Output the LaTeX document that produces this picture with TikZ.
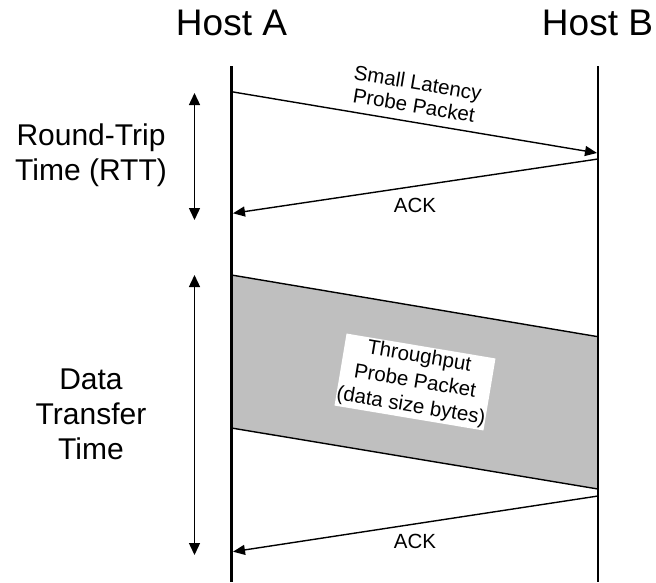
\documentclass[tikz,border=0pt]{standalone}
\usepackage{fontspec}
\setmainfont{Liberation Sans}
\usetikzlibrary{arrows.meta}
\begin{document}
\begin{tikzpicture}[x=1pt,y=-1pt,
  lifeline/.style={line width=2.8pt},
  msg/.style={line width=1.4pt,-{Triangle[length=12pt,width=10pt]}},
  span/.style={line width=1.4pt,{Triangle[length=12pt,width=11pt]}-{Triangle[length=12pt,width=11pt]}},
  edge/.style={line width=1.4pt},
  host/.style={font=\fontsize{37}{40}\selectfont,anchor=base,inner sep=0pt},
  side/.style={font=\fontsize{30}{35}\selectfont,align=center,inner sep=0pt},
  lbl/.style={font=\fontsize{20.5}{23}\selectfont,align=center,inner sep=0pt},
  payload/.style={lbl,font=\fontsize{20.5}{25}\selectfont,fill=white,minimum width=151pt,minimum height=73pt},
  band/.style={fill=black!25},
]
\useasboundingbox (0,0) rectangle (656,582);

% host headings
\node[host] (hostA) at (231.5,35) {Host A};
\node[host] (hostB) at (597.5,35) {Host B};

% lifeline end points
\coordinate (aTop) at (231.5,66);
\coordinate (aBot) at (231.5,582);
\coordinate (bTop) at (598,66);
\coordinate (bBot) at (598,582);

% throughput probe band
\coordinate (bandA1) at (231.5,275);
\coordinate (bandB1) at (598,336.7);
\coordinate (bandB2) at (598,489);
\coordinate (bandA2) at (231.5,428);
\fill[band] (bandA1) -- (bandB1) -- (bandB2) -- (bandA2) -- cycle;
\draw[edge] (bandA1) -- (bandB1);
\draw[edge] (bandA2) -- (bandB2);

% lifelines
\draw[lifeline] (aTop) -- (aBot);
\draw[lifeline] (bTop) -- (bBot);

% latency probe and its acknowledgement
\coordinate (probeS) at (231.5,91.7);
\coordinate (probeE) at (597,153);
\coordinate (ack1S) at (598,159);
\coordinate (ack1E) at (233,213.3);
\draw[msg] (probeS) -- (probeE);
\draw[msg] (ack1S) -- (ack1E);

% acknowledgement of the throughput probe
\coordinate (ack2S) at (598,496);
\coordinate (ack2E) at (233,551.7);
\draw[msg] (ack2S) -- (ack2E);

% message labels
\node[lbl,rotate=-9.5] (probeLbl) at (416,94) {Small Latency\\Probe Packet};
\node[lbl] (ack1Lbl) at (415,205) {ACK};
\node[lbl] (ack2Lbl) at (415,541) {ACK};
\node[payload,rotate=-9.5] (payloadLbl) at (415,382) {Throughput\\Probe Packet\\(data size bytes)};

% time spans
\coordinate (rttTop) at (194.5,93);
\coordinate (rttBot) at (194.5,220);
\coordinate (dttTop) at (194.5,275);
\coordinate (dttBot) at (194.5,555);
\draw[span] (rttTop) -- (rttBot);
\draw[span] (dttTop) -- (dttBot);

\node[side] (rttLbl) at (91,155) {Round-Trip\\Time (RTT)};
\node[side] (dttLbl) at (91,414) {Data\\Transfer\\Time};
\end{tikzpicture}
\end{document}
